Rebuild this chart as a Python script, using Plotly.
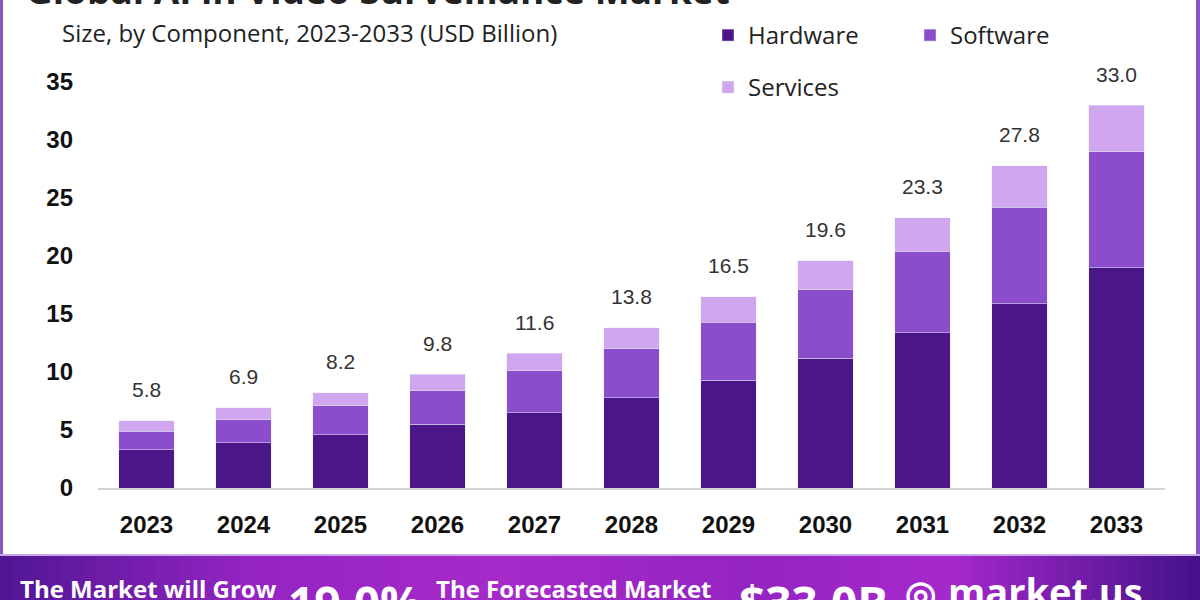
import plotly.graph_objects as go

years = ["2023", "2024", "2025", "2026", "2027", "2028", "2029", "2030", "2031", "2032", "2033"]
hardware = [3.3, 3.9, 4.6, 5.5, 6.5, 7.8, 9.3, 11.2, 13.4, 15.9, 19.0]
software = [1.6, 2.0, 2.5, 2.9, 3.6, 4.2, 5.0, 5.9, 7.0, 8.3, 10.0]
services = [0.9, 1.0, 1.1, 1.4, 1.5, 1.8, 2.2, 2.5, 2.9, 3.6, 4.0]
totals = [5.8, 6.9, 8.2, 9.8, 11.6, 13.8, 16.5, 19.6, 23.3, 27.8, 33.0]
y_ticks = [0, 5, 10, 15, 20, 25, 30, 35]

C_HW = "#4b1688"
C_SW = "#8b4dcc"
C_SV = "#d0a6ee"

W, H = 1200, 600
ML, MR, MT, MB = 98, 35, 82, 112
PW = W - ML - MR
PH = H - MT - MB


def px(x):
    return (x - ML) / PW


def py(y):
    return (H - MB - y) / PH


fig = go.Figure()
fig.add_trace(go.Bar(x=years, y=hardware, name="Hardware", marker_color=C_HW,
                     legend="legend", width=0.57))
fig.add_trace(go.Bar(x=years, y=software, name="Software", marker_color=C_SW,
                     legend="legend", width=0.57))
fig.add_trace(go.Bar(x=years, y=services, name="Services", marker_color=C_SV,
                     legend="legend2", width=0.57))

annotations = []
for i, t in enumerate(totals):
    annotations.append(dict(x=i, y=t, xref="x", yref="y", text=f"{t:.1f}",
                            showarrow=False, yanchor="middle", yshift=31,
                            font=dict(family="Liberation Sans", size=21, color="#333333")))

# title (cut off at top) and subtitle
annotations.append(dict(x=px(24), y=py(17), xref="paper", yref="paper", xanchor="left", yanchor="bottom",
                        text="<b>Global AI in Video Surveillance Market</b>", showarrow=False,
                        font=dict(family="Open Sans", size=37, color="#222222")))
annotations.append(dict(x=px(60), y=py(32), xref="paper", yref="paper", xanchor="left", yanchor="middle",
                        text="Size, by Component, 2023-2033 (USD Billion)", showarrow=False,
                        font=dict(family="Open Sans", size=24, color="#222222")))

# banner texts
banner_texts = [
    (18, 570, "The Market will Grow", 24),
    (286, 569, "19.0%", 46),
    (434, 570, "The Forecasted Market", 24),
    (737, 569, "$33.0B", 46),
    (903, 566, "◎", 36),
    (946, 563, "market.us", 38),
]
for x0, y0, txt, fs in banner_texts:
    annotations.append(dict(x=px(x0), y=py(y0), xref="paper", yref="paper", xanchor="left", yanchor="top",
                            text=f"<b>{txt}</b>", showarrow=False,
                            font=dict(family="Open Sans", size=fs, color="#ffffff")))

# banner gradient
shapes = []
stops = [(0, (80, 22, 148)), (250, (148, 36, 194)), (500, (166, 42, 202)),
         (750, (148, 36, 192)), (950, (166, 40, 204)), (1200, (68, 18, 138))]


def grad(x):
    for (xa, ca), (xb, cb) in zip(stops[:-1], stops[1:]):
        if xa <= x <= xb:
            f = (x - xa) / (xb - xa)
            return "rgb(%d,%d,%d)" % tuple(round(a + (b - a) * f) for a, b in zip(ca, cb))
    return "rgb(%d,%d,%d)" % stops[-1][1]


N = 100
for i in range(N):
    x0 = W * i / N
    x1 = W * (i + 1) / N + 1
    shapes.append(dict(type="rect", xref="paper", yref="paper", x0=px(x0), x1=px(x1),
                       y0=py(556), y1=py(601), fillcolor=grad((x0 + x1) / 2), line_width=0, layer="below"))
# frame lines
shapes.append(dict(type="rect", xref="paper", yref="paper", x0=px(0), x1=px(3), y0=py(0), y1=py(556),
                   fillcolor="#8a55c0", line_width=0))
shapes.append(dict(type="rect", xref="paper", yref="paper", x0=px(1196), x1=px(1200), y0=py(0), y1=py(556),
                   fillcolor="#8a55c0", line_width=0))
shapes.append(dict(type="line", xref="paper", yref="paper", x0=px(0), x1=px(1200), y0=py(555), y1=py(555),
                   line=dict(color="#c9a8e6", width=2)))

fig.update_layout(
    width=W, height=H, autosize=False,
    margin=dict(l=ML, r=MR, t=MT, b=MB, autoexpand=False),
    paper_bgcolor="white", plot_bgcolor="white",
    barmode="stack", bargap=0.43,
    showlegend=True,
    legend=dict(orientation="h", x=px(708), y=py(13), xanchor="left", yanchor="top",
                entrywidth=157, font=dict(family="Open Sans", size=24, color="#222222"),
                traceorder="normal", bgcolor="rgba(0,0,0,0)"),
    legend2=dict(orientation="h", x=px(708), y=py(65), xanchor="left", yanchor="top",
                 font=dict(family="Open Sans", size=24, color="#222222"), bgcolor="rgba(0,0,0,0)"),
    xaxis=dict(type="category", range=[-0.5, 10.5], showgrid=False, showline=True,
               linecolor="#d4d4d4", linewidth=2, ticks="", ticklabelstandoff=14,
               tickfont=dict(family="Liberation Sans", size=24, color="#111111", weight="bold")),
    yaxis=dict(range=[0, 35], tickvals=y_ticks, showgrid=False, zeroline=False, showline=False,
               ticks="", ticklabelstandoff=24,
               tickfont=dict(family="Liberation Sans", size=24, color="#111111", weight="bold")),
    annotations=annotations,
    shapes=shapes,
)

fig.write_html("out.html", config={"displayModeBar": False},
               post_script="document.body.style.margin='0';document.body.style.overflow='hidden';")
